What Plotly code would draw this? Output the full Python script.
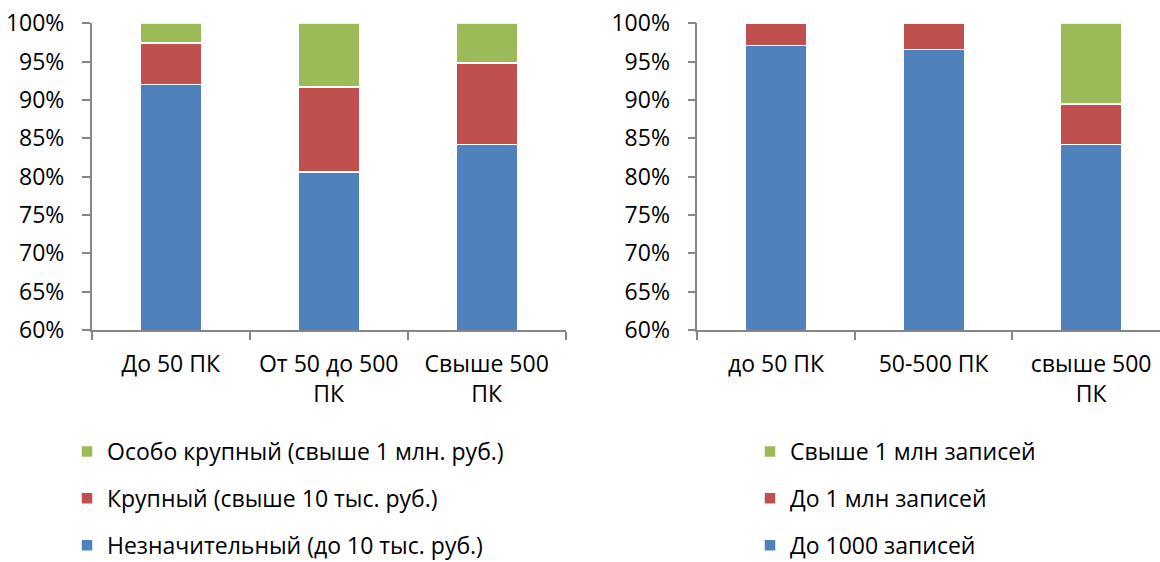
import plotly.graph_objects as go

# ---- data (percent) ----
left_categories = ["До 50 ПК", "От 50 до 500<br>ПК", "Свыше 500<br>ПК"]
left_blue = [92.0, 80.6, 84.2]
left_red = [5.4, 11.1, 10.6]
left_green = [2.6, 8.3, 5.2]
left_names = ["Незначительный (до 10 тыс. руб.)", "Крупный (свыше 10 тыс. руб.)",
              "Особо крупный (свыше 1 млн. руб.)"]

right_categories = ["до 50 ПК", "50-500 ПК", "свыше 500<br>ПК"]
right_blue = [97.1, 96.6, 84.2]
right_red = [2.9, 3.4, 5.3]
right_green = [0.0, 0.0, 10.5]
right_names = ["До 1000 записей", "До 1 млн записей", "Свыше 1 млн записей"]

y_ticks = [60, 65, 70, 75, 80, 85, 90, 95, 100]

# ---- style ----
W, H = 1160, 562
FONT = "Open Sans"
FS = 23
BLUE, RED, GREEN = "#4F81BD", "#C0504D", "#9BBB59"
AXIS = "#868686"
colors = [BLUE, RED, GREEN]

fig = go.Figure()

for i, (vals, name) in enumerate(zip([left_blue, left_red, left_green], left_names)):
    fig.add_trace(go.Bar(
        x=left_categories, y=vals, name=name, xaxis="x", yaxis="y",
        marker=dict(color=colors[i], line=dict(color="white", width=1.5)),
        width=0.39, legend="legend", legendgroup="l%d" % i, legendrank=10 - i,
        hoverinfo="skip"))

for i, (vals, name) in enumerate(zip([right_blue, right_red, right_green], right_names)):
    fig.add_trace(go.Bar(
        x=right_categories, y=vals, name=name, xaxis="x2", yaxis="y2",
        marker=dict(color=colors[i], line=dict(color="white", width=1.5)),
        width=0.39, legend="legend2", legendgroup="r%d" % i, legendrank=10 - i,
        hoverinfo="skip"))

ydom = [1 - 330 / H, 1 - 23.3 / H]

xcommon = dict(
    type="category", showgrid=False, zeroline=False,
    showline=True, linecolor=AXIS, linewidth=1.5,
    ticks="outside", tickson="boundaries", ticklen=8, tickcolor=AXIS, tickwidth=1.5,
    tickfont=dict(family=FONT, size=FS, color="#000000"),
    ticklabelstandoff=13,
)
ycommon = dict(
    range=[60, 100], tickvals=y_ticks, ticktext=["%d%%" % v for v in y_ticks],
    showgrid=False, zeroline=False,
    showline=True, linecolor=AXIS, linewidth=1.5,
    ticks="outside", ticklen=8, tickcolor=AXIS, tickwidth=1.5,
    tickfont=dict(family=FONT, size=FS, color="#000000"),
    ticklabelstandoff=13, domain=ydom,
)

legcommon = dict(
    orientation="v", traceorder="grouped", tracegroupgap=14,
    font=dict(family=FONT, size=FS, color="#000000"),
    bgcolor="rgba(0,0,0,0)", borderwidth=0,
    xanchor="left", yanchor="top", xref="container", yref="container",
)

fig.update_layout(
    width=W, height=H,
    margin=dict(l=0, r=0, t=0, b=0, autoexpand=False),
    paper_bgcolor="white", plot_bgcolor="white",
    barmode="stack", bargap=0.6,
    showlegend=True,
    xaxis=dict(xcommon, domain=[91.7 / W, 565.7 / W], anchor="y", range=[-0.5, 2.5]),
    yaxis=dict(ycommon, anchor="x"),
    xaxis2=dict(xcommon, domain=[697.3 / W, 1.0], anchor="y2", range=[-0.5, 2.437]),
    yaxis2=dict(ycommon, anchor="x2"),
    legend=dict(legcommon, x=67 / W, y=1 - 430 / H),
    legend2=dict(legcommon, x=750 / W, y=1 - 430 / H),
)

fig.write_html("out.html",
               config={"displayModeBar": False},
               post_script="document.body.style.margin='0';document.body.style.overflow='hidden';")
